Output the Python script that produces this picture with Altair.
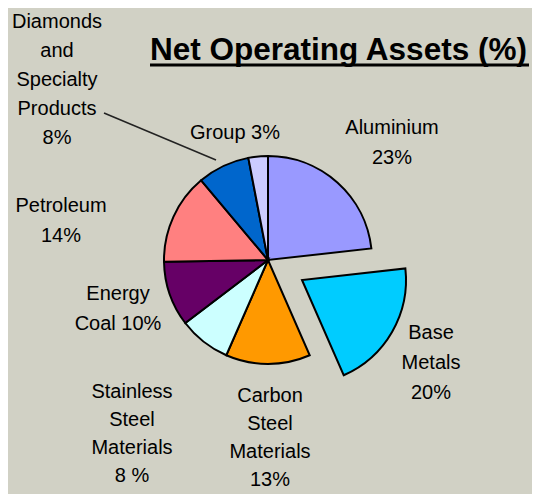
import math
import altair as alt
import pandas as pd

# ---- data ----
segments = ["Aluminium", "Base Metals", "Carbon Steel Materials", "Stainless Steel Materials",
            "Energy Coal", "Petroleum", "Diamonds and Specialty Products", "Group"]
values = [23, 20, 13, 8, 10, 14, 8, 3]
colors = ["#9999FF", "#00CCFF", "#FF9900", "#CCFFFF", "#660066", "#FF8080", "#0066CC", "#CCCCFF"]
label_templates = [
    "Aluminium\n{}%",
    "Base\nMetals\n{}%",
    "Carbon\nSteel\nMaterials\n{}%",
    "Stainless\nSteel\nMaterials\n{} %",
    "Energy\nCoal {}%",
    "Petroleum\n{}%",
    "Diamonds\nand\nSpecialty\nProducts\n{}%",
    "Group {}%",
]
exploded = "Base Metals"
title_text = "Net Operating Assets (%)"

# ---- layout (reference pixel coordinates; page margin is 8px) ----
M = 8
W, H = 540 - 2 * M, 502 - 2 * M
BG = "#d1d1c5"
CX, CY, R = 268 - M, 260 - M, 104
EXPLODE_DX, EXPLODE_DY = 34, 20
label_pos = [  # center x, first-line baseline y, line height
    (392, 134, 30), (431, 339, 30), (270, 402, 28), (132, 398, 28),
    (118, 300, 30), (61, 212, 30), (57, 28, 29), (235, 139, 30),
]
FONT = "Liberation Sans"

df = pd.DataFrame({"segment": segments, "value": values, "idx": list(range(len(segments)))})

base = (
    alt.Chart(df)
    .transform_joinaggregate(total="sum(value)")
    .transform_window(cum="sum(value)", sort=[alt.SortField("idx")], frame=[None, 0])
    .transform_calculate(f0="(datum.cum - datum.value) / datum.total", f1="datum.cum / datum.total")
)

enc = dict(
    theta=alt.Theta("f0:Q", scale=alt.Scale(domain=[0, 1], range=[0, 2 * math.pi])),
    theta2="f1:Q",
    color=alt.Color("segment:N", scale=alt.Scale(domain=segments, range=colors), legend=None),
)

pie = base.transform_filter(alt.datum.segment != exploded).mark_arc(
    radius=R, stroke="black", strokeWidth=2, x=CX, y=CY
).encode(**enc)

pie_ex = base.transform_filter(alt.datum.segment == exploded).mark_arc(
    radius=R, stroke="black", strokeWidth=2, x=CX, y=CY, xOffset=EXPLODE_DX, yOffset=EXPLODE_DY
).encode(**enc)

layers = [pie, pie_ex]

for tmpl, v, (lx, ly, lh) in zip(label_templates, values, label_pos):
    txt = tmpl.format(v)
    layers.append(
        alt.Chart(pd.DataFrame({"t": [txt]})).mark_text(
            font=FONT, fontSize=20, color="black", align="center", baseline="alphabetic",
            lineBreak="\n", lineHeight=lh,
        ).encode(text="t:N", x=alt.value(lx - M), y=alt.value(ly - M))
    )

# leader line for Diamonds label
layers.append(
    alt.Chart(pd.DataFrame({"a": [0]})).mark_rule(color="#222222", strokeWidth=1.5).encode(
        x=alt.value(104 - M), y=alt.value(113 - M), x2=alt.value(216 - M), y2=alt.value(160 - M)
    )
)

# title + underline
TX0, TX1 = 150, 529
layers.append(
    alt.Chart(pd.DataFrame({"t": [title_text]})).mark_text(
        font=FONT, fontSize=31.5, fontWeight="bold", color="black", align="left", baseline="alphabetic"
    ).encode(text="t:N", x=alt.value(TX0 - M), y=alt.value(60 - M))
)
layers.append(
    alt.Chart(pd.DataFrame({"a": [0]})).mark_rule(color="black", strokeWidth=3).encode(
        x=alt.value(TX0 - M), x2=alt.value(TX1 - M), y=alt.value(65 - M)
    )
)

chart = (
    alt.layer(*layers)
    .properties(width=W, height=H, background=BG, padding=0, autosize=alt.AutoSizeParams(type="none"))
    .configure_view(stroke=None)
)

chart.save("out.html", embed_options={"renderer": "svg", "actions": False})
